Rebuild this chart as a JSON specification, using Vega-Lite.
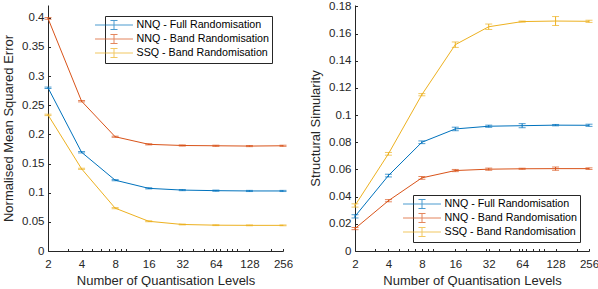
{
  "$schema": "https://vega.github.io/schema/vega-lite/v6.json",
  "padding": {"left": 2, "top": 0, "right": 0, "bottom": 0},
  "config": {
    "font": "Liberation Sans",
    "view": {"stroke": null},
    "axis": {
      "grid": false,
      "domainColor": "#262626",
      "tickColor": "#262626",
      "labelColor": "#262626",
      "titleColor": "#262626",
      "labelFontSize": 11.5,
      "titleFontSize": 13,
      "titleFontWeight": "normal",
      "tickSize": -2.5,
      "domainWidth": 1,
      "tickWidth": 1,
      "labelOverlap": false
    },
    "legend": {
      "labelFontSize": 10.7,
      "labelColor": "#000000",
      "strokeColor": "#262626",
      "fillColor": "#ffffff",
      "padding": 3,
      "rowPadding": 0,
      "labelOffset": 16.5,
      "symbolType": "M-3.45,0H3.45M0,-0.82V0.82M-0.64,-0.82H0.64M-0.64,0.82H0.64",
      "symbolSize": 121,
      "symbolStrokeWidth": 1,
      "symbolFillColor": "transparent",
      "title": null
    }
  },
  "datasets": {
    "mse": [
      {"series": "NNQ - Full Randomisation", "x": 2, "y": 0.280, "lo": 0.2788, "hi": 0.2812},
      {"series": "NNQ - Full Randomisation", "x": 4, "y": 0.1694, "lo": 0.1682, "hi": 0.1706},
      {"series": "NNQ - Full Randomisation", "x": 8, "y": 0.1215, "lo": 0.1205, "hi": 0.1225},
      {"series": "NNQ - Full Randomisation", "x": 16, "y": 0.1075, "lo": 0.1065, "hi": 0.1085},
      {"series": "NNQ - Full Randomisation", "x": 32, "y": 0.1045, "lo": 0.1035, "hi": 0.1055},
      {"series": "NNQ - Full Randomisation", "x": 64, "y": 0.1035, "lo": 0.1025, "hi": 0.1045},
      {"series": "NNQ - Full Randomisation", "x": 128, "y": 0.103, "lo": 0.102, "hi": 0.104},
      {"series": "NNQ - Full Randomisation", "x": 256, "y": 0.103, "lo": 0.102, "hi": 0.104},
      {"series": "NNQ - Band Randomisation", "x": 2, "y": 0.399, "lo": 0.3975, "hi": 0.4005},
      {"series": "NNQ - Band Randomisation", "x": 4, "y": 0.257, "lo": 0.2558, "hi": 0.2582},
      {"series": "NNQ - Band Randomisation", "x": 8, "y": 0.196, "lo": 0.195, "hi": 0.197},
      {"series": "NNQ - Band Randomisation", "x": 16, "y": 0.183, "lo": 0.182, "hi": 0.184},
      {"series": "NNQ - Band Randomisation", "x": 32, "y": 0.181, "lo": 0.180, "hi": 0.182},
      {"series": "NNQ - Band Randomisation", "x": 64, "y": 0.1805, "lo": 0.1795, "hi": 0.1815},
      {"series": "NNQ - Band Randomisation", "x": 128, "y": 0.180, "lo": 0.179, "hi": 0.181},
      {"series": "NNQ - Band Randomisation", "x": 256, "y": 0.1805, "lo": 0.1795, "hi": 0.1815},
      {"series": "SSQ - Band Randomisation", "x": 2, "y": 0.2335, "lo": 0.2323, "hi": 0.2347},
      {"series": "SSQ - Band Randomisation", "x": 4, "y": 0.141, "lo": 0.140, "hi": 0.142},
      {"series": "SSQ - Band Randomisation", "x": 8, "y": 0.0735, "lo": 0.0725, "hi": 0.0745},
      {"series": "SSQ - Band Randomisation", "x": 16, "y": 0.051, "lo": 0.0502, "hi": 0.0518},
      {"series": "SSQ - Band Randomisation", "x": 32, "y": 0.0455, "lo": 0.0448, "hi": 0.0462},
      {"series": "SSQ - Band Randomisation", "x": 64, "y": 0.0443, "lo": 0.0436, "hi": 0.045},
      {"series": "SSQ - Band Randomisation", "x": 128, "y": 0.044, "lo": 0.0433, "hi": 0.0447},
      {"series": "SSQ - Band Randomisation", "x": 256, "y": 0.044, "lo": 0.0433, "hi": 0.0447}
    ],
    "ssim": [
      {"series": "NNQ - Full Randomisation", "x": 2, "y": 0.0255, "lo": 0.0243, "hi": 0.0267},
      {"series": "NNQ - Full Randomisation", "x": 4, "y": 0.0555, "lo": 0.0545, "hi": 0.0565},
      {"series": "NNQ - Full Randomisation", "x": 8, "y": 0.0800, "lo": 0.079, "hi": 0.081},
      {"series": "NNQ - Full Randomisation", "x": 16, "y": 0.0898, "lo": 0.0885, "hi": 0.0911},
      {"series": "NNQ - Full Randomisation", "x": 32, "y": 0.0918, "lo": 0.091, "hi": 0.0926},
      {"series": "NNQ - Full Randomisation", "x": 64, "y": 0.0922, "lo": 0.0907, "hi": 0.0937},
      {"series": "NNQ - Full Randomisation", "x": 128, "y": 0.0926, "lo": 0.0921, "hi": 0.0931},
      {"series": "NNQ - Full Randomisation", "x": 256, "y": 0.0925, "lo": 0.0917, "hi": 0.0933},
      {"series": "NNQ - Band Randomisation", "x": 2, "y": 0.0165, "lo": 0.0157, "hi": 0.0173},
      {"series": "NNQ - Band Randomisation", "x": 4, "y": 0.0370, "lo": 0.0362, "hi": 0.0378},
      {"series": "NNQ - Band Randomisation", "x": 8, "y": 0.0538, "lo": 0.0528, "hi": 0.0548},
      {"series": "NNQ - Band Randomisation", "x": 16, "y": 0.0592, "lo": 0.0584, "hi": 0.06},
      {"series": "NNQ - Band Randomisation", "x": 32, "y": 0.0602, "lo": 0.0594, "hi": 0.061},
      {"series": "NNQ - Band Randomisation", "x": 64, "y": 0.0605, "lo": 0.0601, "hi": 0.0609},
      {"series": "NNQ - Band Randomisation", "x": 128, "y": 0.0606, "lo": 0.0594, "hi": 0.0618},
      {"series": "NNQ - Band Randomisation", "x": 256, "y": 0.0606, "lo": 0.06, "hi": 0.0612},
      {"series": "SSQ - Band Randomisation", "x": 2, "y": 0.0335, "lo": 0.0323, "hi": 0.0347},
      {"series": "SSQ - Band Randomisation", "x": 4, "y": 0.0715, "lo": 0.0705, "hi": 0.0725},
      {"series": "SSQ - Band Randomisation", "x": 8, "y": 0.1150, "lo": 0.1142, "hi": 0.1158},
      {"series": "SSQ - Band Randomisation", "x": 16, "y": 0.1518, "lo": 0.1498, "hi": 0.1538},
      {"series": "SSQ - Band Randomisation", "x": 32, "y": 0.1650, "lo": 0.163, "hi": 0.167},
      {"series": "SSQ - Band Randomisation", "x": 64, "y": 0.1688, "lo": 0.1684, "hi": 0.1692},
      {"series": "SSQ - Band Randomisation", "x": 128, "y": 0.1692, "lo": 0.1659, "hi": 0.1725},
      {"series": "SSQ - Band Randomisation", "x": 256, "y": 0.1690, "lo": 0.1682, "hi": 0.1698}
    ]
  },
  "hconcat": [
    {
      "width": 235,
      "height": 246,
      "data": {"name": "mse"},
      "encoding": {
        "x": {
          "field": "x", "type": "quantitative",
          "scale": {"type": "log", "base": 2, "domain": [2, 256], "nice": false},
          "axis": {
            "title": "Number of Quantisation Levels",
            "values": [2, 3, 4, 5, 6, 7, 8, 9, 10, 16, 20, 30, 32, 40, 50, 60, 64, 70, 80, 90, 100, 128, 200, 256],
            "labelExpr": "indexof([2,4,8,16,32,64,128,256], datum.value) >= 0 ? datum.value + '' : ''",
            "labelPadding": 10,
            "titlePadding": 4,
            "labelFlush": false
          }
        },
        "color": {
          "field": "series", "type": "nominal",
          "scale": {
            "domain": ["NNQ - Full Randomisation", "NNQ - Band Randomisation", "SSQ - Band Randomisation"],
            "range": ["#0072BD", "#D95319", "#EDB120"]
          },
          "legend": {"orient": "top-right", "offset": 11}
        }
      },
      "layer": [
        {
          "mark": {"type": "line", "strokeWidth": 1},
          "encoding": {
            "y": {
              "field": "y", "type": "quantitative",
              "title": "Normalised Mean Squared Error",
              "scale": {"domain": [0, 0.422], "nice": false},
              "axis": {
                "values": [0, 0.05, 0.1, 0.15, 0.2, 0.25, 0.3, 0.35, 0.4],
                "format": "~g",
                "labelOverlap": false,
                "labelPadding": 6.5,
                "titlePadding": 6
              }
            }
          }
        },
        {
          "mark": {"type": "errorbar", "ticks": {"size": 7, "thickness": 1}, "thickness": 1},
          "encoding": {
            "y": {
              "field": "lo", "type": "quantitative",
              "title": "Normalised Mean Squared Error",
              "axis": {
                "values": [0, 0.05, 0.1, 0.15, 0.2, 0.25, 0.3, 0.35, 0.4],
                "format": "~g",
                "labelOverlap": false,
                "labelPadding": 6.5,
                "titlePadding": 6
              }
            },
            "y2": {"field": "hi"}
          }
        }
      ]
    },
    {
      "width": 234,
      "height": 246,
      "data": {"name": "ssim"},
      "encoding": {
        "x": {
          "field": "x", "type": "quantitative",
          "scale": {"type": "log", "base": 2, "domain": [2, 256], "nice": false},
          "axis": {
            "title": "Number of Quantisation Levels",
            "values": [2, 3, 4, 5, 6, 7, 8, 9, 10, 16, 20, 30, 32, 40, 50, 60, 64, 70, 80, 90, 100, 128, 200, 256],
            "labelExpr": "indexof([2,4,8,16,32,64,128,256], datum.value) >= 0 ? datum.value + '' : ''",
            "labelPadding": 10,
            "titlePadding": 4,
            "labelFlush": false
          }
        },
        "color": {
          "field": "series", "type": "nominal",
          "scale": {
            "domain": ["NNQ - Full Randomisation", "NNQ - Band Randomisation", "SSQ - Band Randomisation"],
            "range": ["#0072BD", "#D95319", "#EDB120"]
          },
          "legend": {"orient": "bottom-right", "offset": 9}
        }
      },
      "layer": [
        {
          "mark": {"type": "line", "strokeWidth": 1},
          "encoding": {
            "y": {
              "field": "y", "type": "quantitative",
              "title": "Structural Simularity",
              "scale": {"domain": [0, 0.181], "nice": false},
              "axis": {
                "values": [0, 0.02, 0.04, 0.06, 0.08, 0.1, 0.12, 0.14, 0.16, 0.18],
                "format": "~g",
                "labelOverlap": false,
                "labelPadding": 6.5,
                "titlePadding": 6
              }
            }
          }
        },
        {
          "mark": {"type": "errorbar", "ticks": {"size": 7, "thickness": 1}, "thickness": 1},
          "encoding": {
            "y": {
              "field": "lo", "type": "quantitative",
              "title": "Structural Simularity",
              "axis": {
                "values": [0, 0.02, 0.04, 0.06, 0.08, 0.1, 0.12, 0.14, 0.16, 0.18],
                "format": "~g",
                "labelOverlap": false,
                "labelPadding": 6.5,
                "titlePadding": 6
              }
            },
            "y2": {"field": "hi"}
          }
        }
      ]
    }
  ],
  "resolve": {"scale": {"color": "independent"}, "legend": {"color": "independent"}},
  "bounds": "flush",
  "spacing": 72
}
